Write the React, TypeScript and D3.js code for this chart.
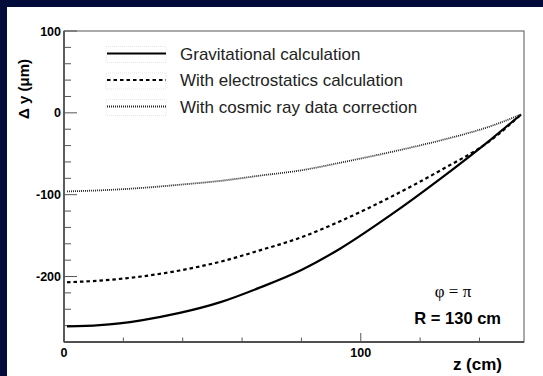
import React from 'react';
import * as d3 from 'd3';

const zValues = [1, 12, 26, 39, 53, 66, 80, 93, 110, 127, 144, 154];
const gravitational = [-261, -259.5, -253.5, -244.5, -231, -213.5, -192, -166, -125, -80, -32, -2];
const electrostatics = [-207, -205, -200, -192.6, -181.6, -168, -152, -132.6, -103, -70, -33, -2];
const cosmic = [-96, -94.7, -91.8, -87.8, -83, -76.7, -70.2, -61, -48, -33.5, -16, -2];

const legendLabels = [
  'Gravitational calculation',
  'With electrostatics calculation',
  'With cosmic ray data correction',
];
const yMajorTicks = [100, 0, -100, -200];
const xMajorTicks = [0, 100];

const W = 543;
const H = 376;
const margin = { top: 31, right: 19, bottom: 34, left: 64 };

const App: React.FC = () => {
  const x = d3.scaleLinear().domain([0, 155]).range([margin.left, W - margin.right]);
  const y = d3.scaleLinear().domain([-280, 100]).range([H - margin.bottom, margin.top]);

  const line = d3.line<number>()
    .x((_, i) => x(zValues[i]))
    .y(d => y(d))
    .curve(d3.curveMonotoneX);

  const series = [
    { values: gravitational, stroke: '#000', width: 2.2, dash: undefined as string | undefined },
    { values: electrostatics, stroke: '#000', width: 2.2, dash: '3.5,3' },
    { values: cosmic, stroke: '#222', width: 1.8, dash: '1,1' },
  ];

  const yMinor = d3.range(-280, 101, 20).filter(v => v % 100 !== 0);
  const xMinor = d3.range(0, 156, 20).filter(v => v % 100 !== 0);
  const axisColor = '#555';
  const x0 = x(0);
  const yb = y(-280);

  return (
    <div style={{ position: 'fixed', left: 0, top: 0 }}>
      <svg width={W} height={H} style={{ display: 'block' }}>
        <rect x={0} y={0} width={W} height={H} fill="#020b3a" />
        <rect x={7} y={7} width={W - 7} height={H - 7} fill="#fff" />

        {/* frame */}
        <rect
          x={x(0)} y={y(100)} width={x(155) - x(0)} height={y(-280) - y(100)}
          fill="none" stroke={axisColor} strokeWidth={1}
        />
        <line x1={x0} x2={x0} y1={y(100)} y2={yb} stroke="#333" strokeWidth={1.3} />
        <line x1={x0} x2={x(155)} y1={yb} y2={yb} stroke="#333" strokeWidth={1.3} />

        {/* y ticks */}
        {yMajorTicks.map(v => (
          <g key={v}>
            <line x1={x0} x2={x0 + 13} y1={y(v)} y2={y(v)} stroke={axisColor} />
            <text
              x={x0 - 3} y={y(v) + 4.5} textAnchor="end"
              fontFamily="Liberation Sans, Arial, sans-serif" fontWeight="bold" fontSize={12.5}
            >{v}</text>
          </g>
        ))}
        {yMinor.map(v => (
          <line key={v} x1={x0} x2={x0 + 7} y1={y(v)} y2={y(v)} stroke={axisColor} />
        ))}

        {/* x ticks */}
        {xMajorTicks.map(v => (
          <g key={v}>
            <line x1={x(v)} x2={x(v)} y1={yb} y2={yb - 9} stroke={axisColor} />
            <text
              x={x(v)} y={yb + 14.5} textAnchor="middle"
              fontFamily="Liberation Sans, Arial, sans-serif" fontWeight="bold" fontSize={12.5}
            >{v}</text>
          </g>
        ))}
        {xMinor.map(v => (
          <line key={v} x1={x(v)} x2={x(v)} y1={yb} y2={yb - 4.5} stroke={axisColor} />
        ))}

        {/* axis titles */}
        <text
          transform={`translate(29,89) rotate(-90)`} textAnchor="middle"
          fontFamily="Liberation Sans, Arial, sans-serif" fontWeight="bold" fontSize={15}
        >Δ y (μm)</text>
        <text
          x={502} y={370} textAnchor="end"
          fontFamily="Liberation Sans, Arial, sans-serif" fontWeight="bold" fontSize={17}
        >z (cm)</text>

        {/* curves */}
        {series.map((s, i) => (
          <path
            key={i} d={line(s.values) ?? ''} fill="none"
            stroke={s.stroke} strokeWidth={s.width} strokeDasharray={s.dash}
          />
        ))}

        {/* legend */}
        {legendLabels.map((label, i) => {
          const ly = 53.5 + i * 26.5;
          const s = series[i];
          return (
            <g key={label}>
              <rect x={106} y={ly - 7} width={60} height={16} fill="none"
                stroke="#e4e4e4" strokeDasharray="1,1" />
              <line x1={107} x2={166} y1={ly} y2={ly} stroke={s.stroke}
                strokeWidth={s.width} strokeDasharray={s.dash} />
              <text x={180} y={ly + 6} fontFamily="Liberation Sans, Arial, sans-serif"
                fontSize={17} fill="#222">{label}</text>
            </g>
          );
        })}

        {/* annotations */}
        <text x={453} y={297} textAnchor="middle"
          fontFamily="Liberation Serif, DejaVu Serif, serif" fontSize={17}>φ = π</text>
        <text x={501} y={324} textAnchor="end"
          fontFamily="Liberation Sans, Arial, sans-serif" fontWeight="bold" fontSize={16.5}>R = 130 cm</text>
      </svg>
    </div>
  );
};

export default App;
